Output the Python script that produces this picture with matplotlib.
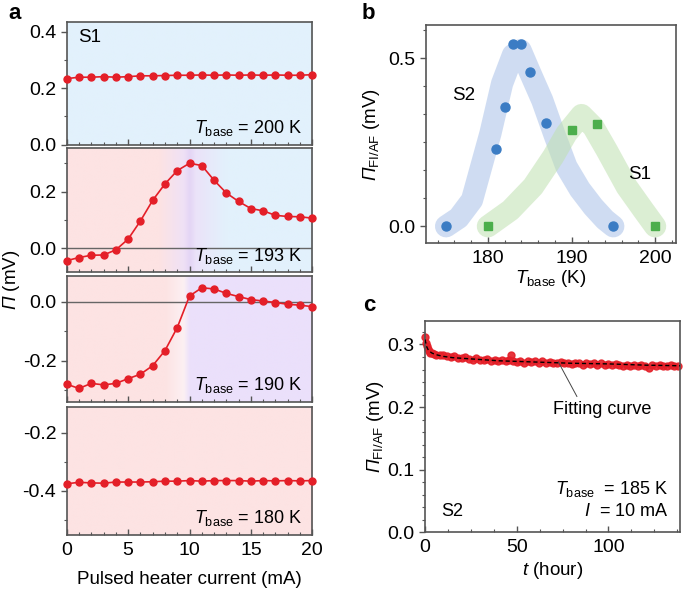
import numpy as np
import matplotlib
matplotlib.use('Agg')
import matplotlib.pyplot as plt
import matplotlib.colors as mcolors
from matplotlib.ticker import MultipleLocator

plt.rcParams['font.family'] = ['Liberation Sans', 'DejaVu Sans']
plt.rcParams['mathtext.fontset'] = 'custom'
plt.rcParams['mathtext.rm'] = 'Liberation Sans'
plt.rcParams['mathtext.it'] = 'Liberation Sans:italic'
plt.rcParams['mathtext.sf'] = 'Liberation Sans:italic'  # used for italic capital Pi
plt.rcParams['axes.unicode_minus'] = False

# ---- panel a: Pi vs pulsed heater current ----
current = list(range(21))
pi_200K = [0.234, 0.239, 0.239, 0.241, 0.239, 0.241, 0.244, 0.244, 0.245, 0.246, 0.246,
           0.247, 0.246, 0.247, 0.246, 0.247, 0.246, 0.247, 0.246, 0.246, 0.248]
pi_193K = [-0.044, -0.033, -0.025, -0.024, -0.006, 0.032, 0.096, 0.169, 0.227, 0.274, 0.300,
           0.292, 0.240, 0.195, 0.165, 0.140, 0.132, 0.116, 0.112, 0.111, 0.106]
pi_190K = [-0.280, -0.294, -0.277, -0.282, -0.277, -0.261, -0.246, -0.217, -0.166, -0.088, 0.019,
           0.047, 0.043, 0.028, 0.017, 0.007, 0.002, -0.003, -0.009, -0.012, -0.017]
pi_180K = [-0.376, -0.371, -0.373, -0.374, -0.370, -0.370, -0.370, -0.369, -0.367, -0.367, -0.365,
           -0.367, -0.365, -0.365, -0.365, -0.367, -0.365, -0.366, -0.365, -0.366, -0.365]
temps_a = ['200', '193', '190', '180']

# ---- panel b: Pi_FI/AF vs T_base ----
T_s2 = [175, 181, 182, 183, 184, 185, 187, 195]
pi_s2 = [0.0, 0.230, 0.355, 0.542, 0.542, 0.459, 0.307, 0.0]
T_s1 = [180, 190, 193, 200]
pi_s1 = [0.0, 0.286, 0.304, 0.0]
# guide-to-the-eye bands (centre line)
guide_T_s2 = [175, 176.5, 178.1, 180.3, 181.7, 183.0, 183.9, 185.0, 186.5, 188.0, 189.4, 191.0, 192.6, 194.0, 195]
guide_s2 = [0.0, 0.025, 0.078, 0.276, 0.425, 0.510, 0.524, 0.460, 0.375, 0.270, 0.177, 0.110, 0.058, 0.020, 0.0]
guide_T_s1 = [180, 182.7, 185.4, 187.8, 189.4, 191.2, 192.6, 194.2, 196.6, 198.6, 200]
guide_s1 = [0.0, 0.048, 0.118, 0.207, 0.276, 0.331, 0.296, 0.227, 0.118, 0.048, 0.0]

# ---- panel c: Pi_FI/AF vs time ----
t_hour = [0, 0.5, 1, 1.5, 2, 3, 4, 5, 6, 8, 10, 12, 14, 16, 18, 20, 22, 24, 26, 28, 30, 32, 34, 36,
          38, 40, 42, 44, 46, 47, 48, 50, 52, 54, 56, 58, 60, 62, 64, 66, 68, 70, 72, 74, 76, 78,
          80, 82, 84, 86, 88, 90, 92, 94, 96, 98, 100, 102, 104, 106, 108, 110, 112, 114, 116,
          118, 120, 122, 124, 126, 128, 130, 132, 134, 136, 138]
pi_t = [0.312, 0.303, 0.297, 0.293, 0.290, 0.287, 0.286, 0.285, 0.284, 0.283, 0.284, 0.282, 0.280,
        0.281, 0.279, 0.278, 0.280, 0.277, 0.276, 0.279, 0.276, 0.275, 0.277, 0.274, 0.276, 0.273,
        0.275, 0.274, 0.275, 0.283, 0.273, 0.272, 0.274, 0.271, 0.273, 0.272, 0.274, 0.271, 0.273,
        0.270, 0.272, 0.271, 0.270, 0.272, 0.270, 0.271, 0.269, 0.271, 0.270, 0.268, 0.270, 0.269,
        0.271, 0.268, 0.270, 0.268, 0.269, 0.267, 0.269, 0.268, 0.266, 0.268, 0.265, 0.267, 0.266,
        0.268, 0.265, 0.263, 0.267, 0.265, 0.267, 0.266, 0.265, 0.267, 0.265, 0.266]
fit_t = [0, 1, 2, 4, 7, 10, 15, 20, 30, 40, 50, 60, 70, 80, 90, 100, 110, 120, 130, 139]
fit_pi = [0.308, 0.296, 0.290, 0.286, 0.283, 0.281, 0.279, 0.278, 0.276, 0.274, 0.273, 0.272,
          0.271, 0.270, 0.2695, 0.269, 0.268, 0.267, 0.2665, 0.266]

RED = '#e41f28'
PINK = '#fde3e3'
PURPLE = '#ebe0fb'
BLUE = '#e2f1fc'
SPINE = '#555555'
FS = 13.5
TFS = 14
PI = r'$\mathsf{\Pi}$'
PI_FIAF = r'$\mathsf{\Pi}_{\mathrm{FI/AF}}$ (mV)'


def gradient(ax, stops, colors, xlim, ylim):
    xs = np.linspace(xlim[0], xlim[1], 500)
    rgb = np.array([mcolors.to_rgb(c) for c in colors])
    img = np.stack([np.interp(xs, stops, rgb[:, i]) for i in range(3)], axis=-1)[None, :, :]
    ax.imshow(img, extent=[xlim[0], xlim[1], ylim[0], ylim[1]], aspect='auto',
              zorder=0, interpolation='bilinear')


def style(ax):
    for s in ax.spines.values():
        s.set_color(SPINE)
        s.set_linewidth(1.2)
    ax.tick_params(axis='x', which='both', direction='in', color=SPINE, labelsize=TFS)
    ax.tick_params(axis='y', which='both', direction='out', color=SPINE, labelsize=TFS)
    ax.tick_params(which='major', length=4, width=1)
    ax.tick_params(which='minor', length=2.5, width=0.8)


fig = plt.figure(figsize=(6.85, 5.95), dpi=100)

# panel a axes positions (left, bottom, width, height)
pos_a = [(0.0974, 0.7571, 0.3585, 0.2059),
         (0.0974, 0.5434, 0.3585, 0.2074),
         (0.0974, 0.3249, 0.3585, 0.2118),
         (0.0974, 0.1008, 0.3585, 0.2156)]
ylims_a = [(0.0, 0.435), (-0.083, 0.353), (-0.339, 0.088), (-0.553, -0.110)]
data_a = [pi_200K, pi_193K, pi_190K, pi_180K]
bgs = [([0, 20], [BLUE, BLUE]),
       ([0, 7.5, 9.5, 10, 10.5, 13, 20], [PINK, PINK, '#efe1f6', '#e4d5f5', '#ebe3f9', BLUE, BLUE]),
       ([0, 8, 9.5, 10, 20], [PINK, PINK, '#fcf0f3', PURPLE, PURPLE]),
       ([0, 20], [PINK, PINK])]
xlim_a = (0, 20)

for i in range(4):
    ax = fig.add_axes(pos_a[i])
    gradient(ax, bgs[i][0], bgs[i][1], xlim_a, ylims_a[i])
    if i in (1, 2):
        ax.axhline(0, color='#666666', lw=1, zorder=1)
    ax.plot(current, data_a[i], '-o', color=RED, lw=1.2, ms=5, zorder=3, clip_on=False)
    ax.set_xlim(*xlim_a)
    ax.set_ylim(*ylims_a[i])
    ax.xaxis.set_major_locator(MultipleLocator(5))
    ax.xaxis.set_minor_locator(MultipleLocator(1))
    ax.yaxis.set_major_locator(MultipleLocator(0.2))
    ax.yaxis.set_minor_locator(MultipleLocator(0.1))
    ax.yaxis.set_major_formatter(lambda v, p: f'{v:.1f}')
    style(ax)
    if i < 3:
        ax.tick_params(axis='x', labelbottom=False)
    else:
        ax.tick_params(axis='x', pad=5)
        ax.set_xlabel('Pulsed heater current (mA)', fontsize=FS, labelpad=9)
    ax.text(0.958, 0.09, r'$\mathit{T}_{\mathrm{base}}$ = ' + temps_a[i] + ' K',
            transform=ax.transAxes, ha='right', va='baseline', fontsize=13)
    if i == 0:
        ax.text(0.045, 0.87, 'S1', transform=ax.transAxes, ha='left', va='center', fontsize=FS)

fig.text(0.017, 0.53, PI + ' (mV)', rotation=90, ha='center', va='center', fontsize=FS)
fig.text(0.012, 0.978, 'a', fontsize=16, fontweight='bold', ha='left', va='center')

# ---- panel b ----
axb = fig.add_axes((0.6219, 0.5916, 0.365, 0.3664))
axb.plot(guide_T_s2, guide_s2, color='#b0c6ea', alpha=0.6, lw=16,
         solid_capstyle='round', solid_joinstyle='round', zorder=1)
axb.plot(guide_T_s1, guide_s1, color='#bfe0b0', alpha=0.55, lw=16,
         solid_capstyle='round', solid_joinstyle='round', zorder=1)
axb.plot(T_s2, pi_s2, 'o', color='#3b7cc4', ms=6.5, zorder=3)
axb.plot(T_s1, pi_s1, 's', color='#4cae4c', ms=6, zorder=3)
axb.set_xlim(172.6, 202.5)
axb.set_ylim(-0.0497, 0.599)
axb.xaxis.set_major_locator(MultipleLocator(10))
axb.xaxis.set_minor_locator(MultipleLocator(2))
axb.yaxis.set_major_locator(MultipleLocator(0.5))
axb.yaxis.set_minor_locator(MultipleLocator(0.5 / 6))
axb.yaxis.set_major_formatter(lambda v, p: f'{v:.1f}')
style(axb)
axb.tick_params(axis='x', pad=5)
axb.set_xlabel(r'$\mathit{T}_{\mathrm{base}}$ (K)', fontsize=FS, labelpad=1)
axb.set_ylabel(PI_FIAF, fontsize=FS, labelpad=5)
axb.text(177.1, 0.388, 'S2', ha='center', va='center', fontsize=FS)
axb.text(198.2, 0.153, 'S1', ha='center', va='center', fontsize=FS)
fig.text(0.528, 0.978, 'b', fontsize=16, fontweight='bold', ha='left', va='center')

# ---- panel c ----
axc = fig.add_axes((0.6204, 0.1054, 0.3723, 0.3556))
axc.plot(t_hour, pi_t, 'o', color=RED, ms=5, mec=RED, alpha=0.9, zorder=2, clip_on=False)
axc.plot(fit_t, fit_pi, '--', color='black', lw=1, dashes=(3, 2), zorder=3)
axc.plot([72.7, 82.8], [0.272, 0.217], color='#444444', lw=0.7, zorder=3)
axc.set_xlim(0, 139)
axc.set_ylim(0, 0.338)
axc.xaxis.set_major_locator(MultipleLocator(50))
axc.xaxis.set_minor_locator(MultipleLocator(12.5))
axc.yaxis.set_major_locator(MultipleLocator(0.1))
axc.yaxis.set_minor_locator(MultipleLocator(0.02))
axc.yaxis.set_major_formatter(lambda v, p: f'{v:.1f}')
style(axc)
axc.tick_params(axis='x', pad=5)
axc.set_xlabel(r'$\mathit{t}$ (hour)', fontsize=FS, labelpad=3)
axc.set_ylabel(PI_FIAF, fontsize=FS, labelpad=1)
axc.text(96.4, 0.196, 'Fitting curve', ha='center', va='center', fontsize=13)
axc.text(0.955, 0.205, r'$\mathit{T}_{\mathrm{base}}$  = 185 K', transform=axc.transAxes,
         ha='right', va='center', fontsize=13)
axc.text(0.955, 0.1, r'$\mathit{I}$  = 10 mA', transform=axc.transAxes,
         ha='right', va='center', fontsize=13)
axc.text(0.105, 0.1, 'S2', transform=axc.transAxes, ha='center', va='center', fontsize=13)
fig.text(0.53, 0.487, 'c', fontsize=16, fontweight='bold', ha='left', va='center')

fig.savefig('out.png', dpi=100)
